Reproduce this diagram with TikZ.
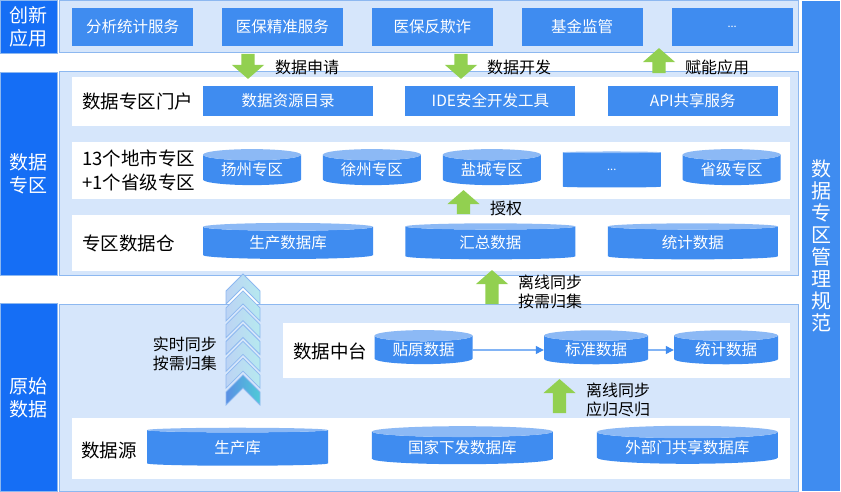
\documentclass[tikz,border=0pt]{standalone}
\usepackage{fontspec}
\setmainfont{Noto Sans CJK SC}
\usetikzlibrary{arrows.meta, positioning, shapes.geometric, shapes.arrows}

\definecolor{deepblue}{HTML}{156EF5}
\definecolor{boxblue}{HTML}{3F8CF0}
\definecolor{cyltop}{HTML}{8CB9F5}
\definecolor{panelfill}{HTML}{D6E6FB}
\definecolor{panelline}{HTML}{8DB8F0}
\definecolor{leafgreen}{HTML}{92D050}
\definecolor{chevlight}{HTML}{BCD3F4}
\definecolor{chevcyan}{HTML}{B6E9EF}
\definecolor{chevdark}{HTML}{5A8FE4}
\definecolor{chevteal}{HTML}{4FCAD8}

\begin{document}
\begin{tikzpicture}[x=1pt, y=-1pt]

		\tikzset{
			layer/.style={
					fill=deepblue, draw=panelline, text=white, align=center, inner sep=0pt,
					font=\fontsize{19}{23}\selectfont
				},
			panel/.style={fill=panelfill, draw=panelline, line width=1pt},
			lane/.style={fill=white},
			svc/.style={
					fill=boxblue, text=white, inner sep=0pt, minimum width=121pt, minimum height=38pt,
					font=\fontsize{15.5}{18}\selectfont
				},
			tool/.style={svc, minimum width=170pt, minimum height=30pt},
			dbase/.style={
					cylinder, shape border rotate=90, aspect=#1, inner sep=0pt, text=white,
					cylinder uses custom fill, cylinder body fill=boxblue, cylinder end fill=cyltop,
					font=\fontsize{15.5}{18}\selectfont
				},
			rowtag/.style={inner sep=0pt, anchor=west, align=left, font=\fontsize{18.5}{24}\selectfont},
			note/.style={inner sep=0pt, align=left, font=\fontsize{16}{19}\selectfont},
			block/.style={
					single arrow, fill=leafgreen, inner xsep=0pt, inner ysep=6.5pt,
					single arrow head extend=9.5pt, single arrow tip angle=98, minimum height=#1
				},
			flow/.style={draw=boxblue, line width=1.2pt, -{Triangle[length=8pt, width=8pt]}},
		}

		\useasboundingbox (0,0) rectangle (841,492);

		% three layers
		\draw[panel] (59,0.5) rectangle (798,53);
		\draw[panel] (59,72) rectangle (798,275);
		\draw[panel] (59,304) rectangle (798,491);

		\node[layer, minimum width=57pt, minimum height=53pt] (apps) at (28.5,26.5) {创新\\应用};
		\node[layer, minimum width=57pt, minimum height=203pt] (zone) at (28.5,173.5) {数据\\专区};
		\node[layer, minimum width=57pt, minimum height=188pt] (raw) at (28.5,397.5) {原始\\数据};
		\node[layer, fill=boxblue, draw=none, minimum width=38pt, minimum height=490pt,
			font=\fontsize{20}{22}\selectfont] (rule) at (821,246) {数\\据\\专\\区\\管\\理\\规\\范};

		\fill[lane] (72,77) rectangle (790,126);
		\fill[lane] (72,142) rectangle (790,199);
		\fill[lane] (72,215) rectangle (790,271);
		\fill[lane] (283,323) rectangle (790,378);
		\fill[lane] (72,418) rectangle (790,479);

		% applications
		\node[svc](a1) at (132.5,27){分析统计服务};
		\node[svc, right=28.5pt of a1](a2){医保精准服务};
		\node[svc, right=28.5pt of a2](a3){医保反欺诈};
		\node[svc, right=28.5pt of a3](a4){基金监管};
		\node[svc, right=28.5pt of a4](a5){\fontsize{11}{11}\selectfont ...};

		% portal
		\node[rowtag](portal) at (82,101){数据专区门户};
		\node[tool](p1) at (288,101){数据资源目录};
		\node[tool, right=32pt of p1](p2){IDE安全开发工具};
		\node[tool, right=32pt of p2](p3){API共享服务};

		% zones
		\node[rowtag](city) at (82,170){13个地市专区\\+1个省级专区};
		\node[dbase=0.18, minimum width=98pt, minimum height=36pt](z1) at (252,170){扬州专区};
		\node[dbase=0.18, minimum width=98pt, minimum height=36pt, right=21.5pt of z1](z2){徐州专区};
		\node[dbase=0.18, minimum width=98pt, minimum height=36pt, right=21.5pt of z2](z3){盐城专区};
		\node[dbase=0.18, minimum width=98pt, minimum height=36pt, right=21.5pt of z3](z4){\fontsize{11}{11}\selectfont ...};
		\node[dbase=0.18, minimum width=98pt, minimum height=36pt, right=21.5pt of z4](z5){省级专区};

		% warehouse
		\node[rowtag](store) at (82,243){专区数据仓};
		\node[dbase=0.1, minimum width=170pt, minimum height=36pt](w1) at (288,243){生产数据库};
		\node[dbase=0.1, minimum width=170pt, minimum height=36pt, right=32pt of w1](w2){汇总数据};
		\node[dbase=0.1, minimum width=170pt, minimum height=36pt, right=32pt of w2](w3){统计数据};

		% data middle platform
		\node[rowtag](hub) at (293,351){数据中台};
		\node[dbase=0.18, minimum width=98pt, minimum height=34pt](m1) at (423.5,350){贴原数据};
		\node[dbase=0.17, minimum width=104pt, minimum height=34pt](m2) at (596,350){标准数据};
		\node[dbase=0.17, minimum width=104pt, minimum height=34pt](m3) at (726,350){统计数据};

		\draw[flow] (m1)--(m2);
		\draw[flow] (m2)--(m3);

		% sources
		\node[rowtag](src) at (81,450){数据源};
		\node[dbase=0.1, minimum width=181pt, minimum height=38pt](d1) at (237.5,448){生产库};
		\node[dbase=0.1, minimum width=181pt, minimum height=38pt, right=43.5pt of d1](d2){国家下发数据库};
		\node[dbase=0.1, minimum width=181pt, minimum height=38pt, right=43.5pt of d2](d3){外部门共享数据库};

		% green arrows
		\node[block=25pt, rotate=-90](req) at (248,63.5){};
		\node[block=25pt, rotate=-90](dev) at (461,63.5){};
		\node[block=25pt, rotate=90](use) at (659,63.5){};
		\node[block=24pt, rotate=90](auth) at (463.5,205){};
		\node[block=34pt, rotate=90](up1) at (492,290){};
		\node[block=34pt, rotate=90](up2) at (559.5,399){};

		\node[note, anchor=west](t1) at (275,67){数据申请};
		\node[note, anchor=west](t2) at (487,67){数据开发};
		\node[note, anchor=west](t3) at (685,67){赋能应用};
		\node[note, anchor=west](t4) at (490,208){授权};
		\node[note, anchor=west](t5) at (518,292){离线同步\\按需归集};
		\node[note, anchor=west](t6) at (586,400){离线同步\\应归尽归};
		\node[note, anchor=east](t7) at (217,354){实时同步\\按需归集};

		% realtime chevrons
		\foreach \i/\lc/\rc in {0/chevlight/chevcyan, 1/chevlight/chevcyan, 2/chevlight/chevcyan,
				3/chevlight/chevcyan, 4/chevlight/chevcyan, 5/chevlight/chevcyan, 6/chevdark/chevteal}{
				\pgfmathsetmacro\t{274+16.83*\i}
				\draw[draw=panelline, line width=0.8pt, left color=\lc, right color=\rc]
				(243,\t) -- (260,\t+17) -- (260,\t+30) -- (243,\t+13) -- (226,\t+30) -- (226,\t+17) -- cycle;
			}

	\end{tikzpicture}
\end{document}
